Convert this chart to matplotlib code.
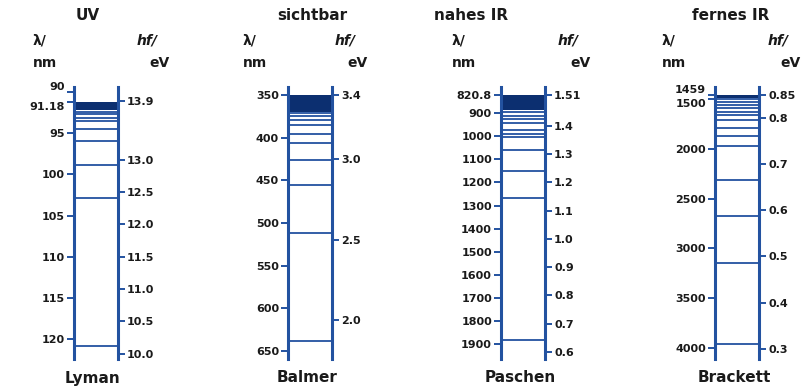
import matplotlib.pyplot as plt

W, H = 808, 387

# series and spectral regions
series = ["Lyman", "Balmer", "Paschen", "Brackett"]
regions = ["UV", "sichtbar", "nahes IR", "fernes IR"]

# emission line wavelengths in nm
lyman_lines = [120.8, 102.9, 98.9, 95.9, 94.5, 93.5, 93.1, 92.7, 92.45]
balmer_lines = [638.2, 511.7, 454.9, 426.0, 406.5, 396.0, 385.7, 379.6, 374.8, 370.7]
paschen_lines = [1881, 1268, 1149, 1058, 1003, 988, 971, 941, 925, 910, 894]
brackett_lines = [3958, 3144, 2677, 2314, 1970, 1872, 1786, 1709, 1664, 1625,
                  1589, 1560, 1530, 1500]

# band where the lines crowd together towards the series limit (nm)
lyman_band = [91.18, 92.2]
balmer_band = [350, 369.5]
paschen_band = [820.8, 885.7]
brackett_band = [1459, 1490]

# tick labels: wavelength (left) and photon energy (right)
lyman_nm = ["90", "91.18", "95", "100", "105", "110", "115", "120"]
lyman_ev = ["13.9", "13.0", "12.5", "12.0", "11.5", "11.0", "10.5", "10.0"]
balmer_nm = ["350", "400", "450", "500", "550", "600", "650"]
balmer_ev = ["3.4", "3.0", "2.5", "2.0"]
paschen_nm = ["820.8", "900", "1000", "1100", "1200", "1300", "1400", "1500",
              "1600", "1700", "1800", "1900"]
paschen_ev = ["1.51", "1.4", "1.3", "1.2", "1.1", "1.0", "0.9", "0.8", "0.7", "0.6"]
brackett_nm = ["1459", "1500", "2000", "2500", "3000", "3500", "4000"]
brackett_ev = ["0.85", "0.8", "0.7", "0.6", "0.5", "0.4", "0.3"]

# axis ranges (nm from top to bottom, eV from bottom to top)
nm_limits = [(122.43, 89.39), (659.4, 340.6), (1965, 786.1), (4110, 1379)]
ev_limits = [(9.92, 14.12), (1.757, 3.45), (0.575, 1.538), (0.278, 0.867)]

panels = [
    (lyman_lines, lyman_band, lyman_nm, lyman_ev),
    (balmer_lines, balmer_band, balmer_nm, balmer_ev),
    (paschen_lines, paschen_band, paschen_nm, paschen_ev),
    (brackett_lines, brackett_band, brackett_nm, brackett_ev),
]

blue = "#2352a0"
navy = "#0c2f70"
ink = "#1a1a1a"

plt.rcParams["font.family"] = "DejaVu Sans"

fig = plt.figure(figsize=(W / 100, H / 100), dpi=100)

col_left = [74, 288, 501, 715]
col_w, col_top, col_bot = 44, 87, 359

# header text positions (pixels)
title_x = [88, 312, 471, 731]
lam_x = [33, 243, 452, 662]
ev_x = [170, 368, 591, 801]


def fx(x):
    return x / W


def fy(y):
    return 1 - y / H


def spread_close_labels(axis, ticks, limits):
    # push apart labels whose ticks sit too close together
    px_per_unit = (col_bot - col_top) / abs(limits[0] - limits[1])
    labels = axis.get_yticklabels()
    for j in range(len(ticks) - 1):
        if abs(ticks[j + 1] - ticks[j]) * px_per_unit < 11:
            labels[j].set_verticalalignment("bottom")
            labels[j + 1].set_verticalalignment("top")


for i, (lines, band, nm_ticks, ev_ticks) in enumerate(panels):
    ax = fig.add_axes([fx(col_left[i]), fy(col_bot), col_w / W, (col_bot - col_top) / H])
    ax.set_xlim(0, 1)
    ax.set_ylim(*nm_limits[i])
    ax.set_xticks([])

    ax.axhspan(band[0], band[1], color=navy, lw=0)
    ax.hlines(lines, 0, 1, transform=ax.get_yaxis_transform(), color=blue, lw=1.3)

    for side in ["top", "bottom"]:
        ax.spines[side].set_visible(False)
    for side in ["left", "right"]:
        ax.spines[side].set_color(blue)
        ax.spines[side].set_linewidth(2.2)

    nm_vals = [float(t) for t in nm_ticks]
    ax.set_yticks(nm_vals, nm_ticks, fontweight="bold", fontsize=8, color=ink)
    ax.tick_params(axis="y", direction="out", length=5, width=1.4,
                   color=blue, pad=1.5)
    spread_close_labels(ax, nm_vals, nm_limits[i])

    tw = ax.twinx()
    tw.set_ylim(*ev_limits[i])
    for s in tw.spines.values():
        s.set_visible(False)
    ev_vals = [float(t) for t in ev_ticks]
    tw.set_yticks(ev_vals, ev_ticks, fontweight="bold", fontsize=8, color=ink)
    tw.tick_params(axis="y", direction="out", length=5, width=1.4,
                   color=blue, pad=1.5)

    # headers and series name
    fig.text(fx(title_x[i]), fy(16), regions[i], ha="center", va="center",
             fontsize=11, fontweight="bold", color=ink)
    fig.text(fx(lam_x[i]), fy(41), "λ/", ha="left", va="center",
             fontsize=10, fontweight="bold", color=ink)
    fig.text(fx(ev_x[i] - 12), fy(41), "hf/", ha="right", va="center",
             fontsize=10, fontweight="bold", fontstyle="italic", color=ink)
    fig.text(fx(lam_x[i]), fy(63), "nm", ha="left", va="center",
             fontsize=10, fontweight="bold", color=ink)
    fig.text(fx(ev_x[i]), fy(63), "eV", ha="right", va="center",
             fontsize=10, fontweight="bold", color=ink)
    fig.text(fx(col_left[i] + col_w / 2 - 3), fy(378), series[i], ha="center",
             va="center", fontsize=11, fontweight="bold", color=ink)

fig.savefig("out.png", dpi=100, facecolor="white")
